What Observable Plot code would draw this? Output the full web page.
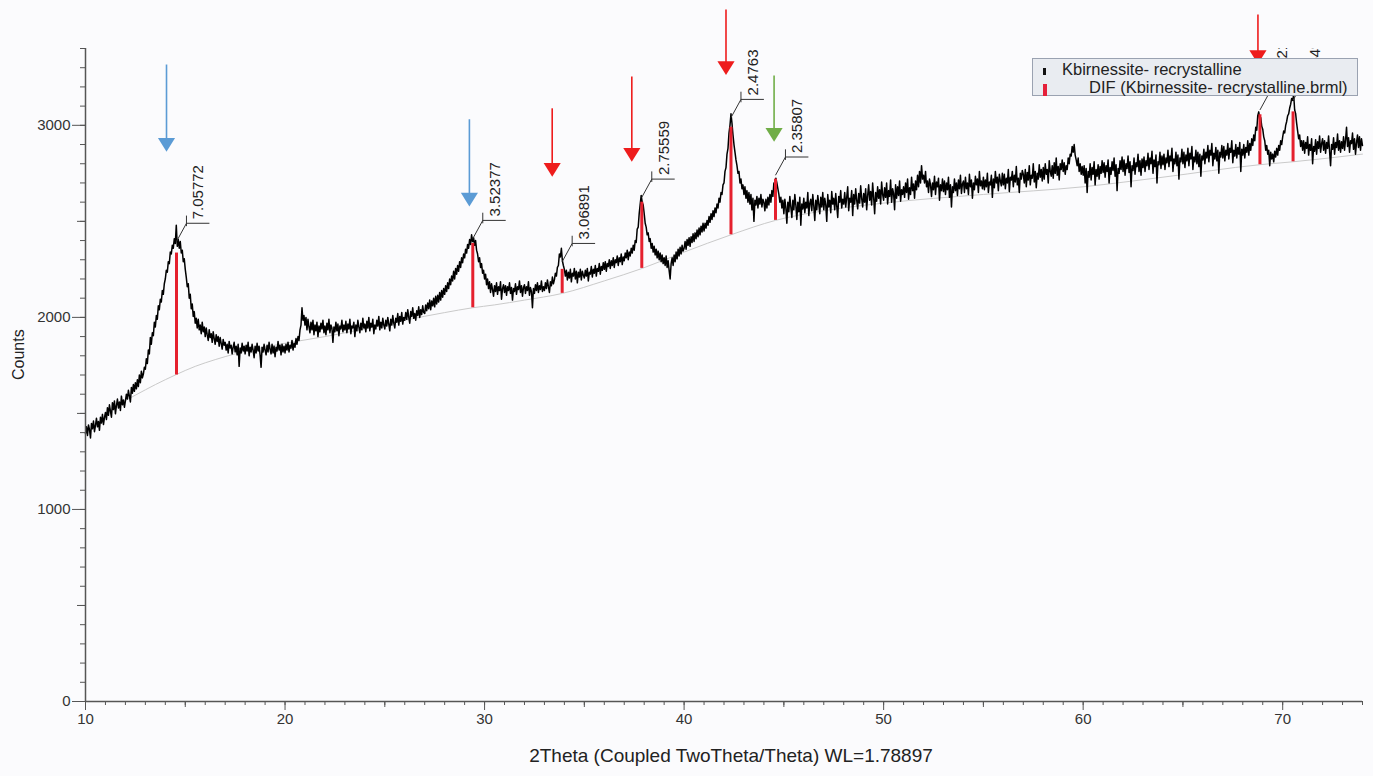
<!DOCTYPE html>
<html><head><meta charset="utf-8">
<script src="https://cdn.jsdelivr.net/npm/d3@7"></script>
<script src="https://cdn.jsdelivr.net/npm/@observablehq/plot@0.6"></script>
<style>
html,body{margin:0;padding:0;background:#fbfbfd;}
#wrap{position:relative;width:1373px;height:776px;overflow:hidden;}
#legend{position:absolute;left:1032px;top:58px;width:324px;height:36px;background:#e9ecf1;border:1px solid #9aa2b1;font-family:"Liberation Sans",Arial,sans-serif;font-size:16.5px;color:#222;}
#legend .m{position:absolute;}
#legend .t{position:absolute;white-space:nowrap;line-height:18px;}
</style></head>
<body><div id="wrap"><div id="legend"></div></div>
<script>
// ---- measured pattern: one row per degree of 2Theta, step 0.05 ----
const thetaStart = 10;
const thetaStep = 0.05;
const countsByDegree = [
[1395,1430,1385,1440,1415,1372,1448,1420,1460,1405,1438,1475,1430,1458,1412,1480,1450,1495,1442,1478],
[1505,1468,1530,1490,1545,1512,1480,1556,1520,1565,1498,1540,1575,1528,1560,1515,1590,1545,1570,1532],
[1565,1600,1575,1620,1590,1560,1635,1605,1650,1615,1660,1628,1675,1640,1700,1660,1720,1685,1705,1740],
[1730,1785,1760,1830,1810,1895,1860,1920,1905,1975,1950,2010,1990,2060,2040,2095,2080,2140,2120,2175],
[2200,2245,2235,2290,2280,2340,2330,2375,2360,2410,2385,2480,2370,2405,2360,2395,2335,2350,2290,2305],
[2250,2210,2160,2175,2100,2120,2045,2070,2005,2030,1970,1995,1945,1990,1935,1960,1915,1975,1925,1950],
[1900,1945,1910,1880,1935,1895,1915,1870,1925,1890,1860,1910,1875,1900,1850,1895,1865,1835,1885,1855],
[1870,1830,1860,1815,1875,1840,1855,1810,1845,1870,1820,1850,1805,1860,1745,1840,1815,1865,1825,1850],
[1810,1855,1825,1870,1800,1845,1820,1860,1830,1790,1850,1815,1865,1825,1850,1805,1740,1845,1820,1860],
[1830,1805,1855,1820,1870,1835,1810,1860,1815,1850,1795,1845,1825,1875,1830,1855,1805,1860,1820,1850],
[1815,1860,1830,1870,1820,1855,1840,1880,1830,1865,1845,1890,1860,1900,1880,1935,1960,2050,1985,2010],
[1960,2000,1935,1990,1950,1920,1975,1935,1985,1910,1960,1930,1975,1900,1955,1925,1970,1940,1985,1920],
[1955,1910,1970,1935,1990,1920,1960,1945,1870,1950,1925,1975,1930,1965,1905,1955,1940,1985,1925,1960],
[1935,1980,1920,1965,1940,1990,1915,1955,1945,1975,1900,1960,1930,1985,1950,1920,1970,1935,1995,1945],
[1965,1925,1980,1945,2000,1930,1970,1950,1990,1915,1960,1940,1985,1955,2005,1935,1975,1945,1995,1960],
[1940,1985,1955,2000,1965,1930,1990,1960,2010,1970,1945,1995,1975,2020,1960,2005,1980,2025,1965,2000],
[1985,2025,1990,2040,2000,1970,2030,2005,2050,1995,2020,1985,2035,2010,2055,2000,2040,2015,2060,2025],
[2020,2065,2035,2075,2045,2090,2040,2085,2060,2100,2055,2110,2070,2115,2080,2130,2090,2140,2105,2150],
[2120,2165,2135,2180,2150,2200,2170,2215,2190,2240,2200,2255,2225,2270,2240,2290,2260,2310,2285,2330],
[2310,2355,2335,2380,2360,2405,2380,2430,2395,2415,2375,2400,2350,2330,2290,2310,2260,2280,2230,2245],
[2200,2225,2170,2200,2150,2185,2130,2175,2145,2110,2165,2135,2180,2120,2160,2140,2185,2095,2150,2170],
[2130,2165,2115,2160,2140,2180,2125,2155,2090,2150,2135,2175,2120,2160,2145,2190,2130,2165,2110,2155],
[2170,2125,2160,2140,2185,2115,2155,2135,2050,2150,2125,2170,2140,2180,2130,2165,2145,2190,2135,2160],
[2140,2180,2150,2195,2160,2130,2185,2165,2210,2175,2195,2230,2215,2260,2270,2330,2315,2360,2295,2270],
[2250,2215,2245,2195,2235,2205,2250,2185,2230,2215,2255,2200,2240,2180,2235,2210,2250,2195,2240,2220],
[2205,2245,2215,2255,2190,2235,2225,2265,2210,2250,2230,2270,2215,2255,2240,2280,2225,2265,2245,2285],
[2250,2290,2240,2280,2265,2300,2255,2295,2270,2310,2260,2300,2285,2320,2270,2310,2290,2330,2275,2315],
[2295,2335,2310,2350,2300,2340,2320,2360,2335,2375,2350,2400,2390,2460,2470,2540,2590,2635,2600,2585],
[2540,2490,2470,2430,2440,2395,2410,2360,2385,2340,2370,2325,2355,2310,2345,2300,2335,2290,2325,2280],
[2310,2270,2320,2260,2295,2245,2200,2280,2310,2270,2325,2290,2340,2305,2355,2320,2365,2330,2375,2345],
[2360,2395,2355,2405,2375,2415,2370,2420,2390,2435,2395,2440,2410,2455,2420,2465,2430,2475,2445,2490],
[2450,2490,2465,2505,2480,2525,2495,2540,2510,2555,2525,2570,2545,2590,2570,2620,2600,2650,2640,2690],
[2700,2760,2780,2850,2880,2960,3000,3060,3010,2950,2900,2860,2820,2790,2750,2760,2700,2720,2670,2690],
[2640,2680,2620,2660,2600,2650,2590,2640,2560,2620,2500,2610,2585,2630,2570,2620,2590,2640,2575,2615],
[2600,2555,2615,2570,2625,2585,2640,2600,2660,2630,2700,2680,2725,2700,2670,2640,2600,2625,2570,2610],
[2540,2615,2570,2490,2600,2550,2630,2575,2520,2610,2560,2640,2585,2510,2600,2550,2625,2480,2590,2565],
[2620,2545,2600,2570,2650,2530,2595,2615,2555,2640,2580,2505,2610,2560,2635,2590,2540,2625,2575,2650],
[2560,2620,2585,2500,2640,2575,2610,2545,2655,2590,2620,2560,2645,2580,2520,2630,2600,2660,2570,2615],
[2590,2650,2575,2625,2680,2555,2620,2600,2660,2530,2640,2590,2670,2610,2565,2645,2595,2685,2620,2575],
[2645,2600,2670,2560,2635,2690,2610,2655,2585,2700,2625,2540,2650,2605,2680,2620,2665,2590,2705,2640],
[2610,2675,2625,2700,2590,2660,2630,2715,2600,2670,2645,2560,2690,2620,2680,2635,2710,2605,2665,2640],
[2680,2625,2700,2650,2720,2615,2675,2640,2730,2660,2695,2620,2710,2665,2740,2680,2760,2700,2790,2720],
[2740,2700,2760,2680,2710,2650,2720,2690,2630,2700,2665,2735,2640,2705,2680,2725,2610,2690,2660,2720],
[2655,2710,2640,2700,2665,2730,2625,2690,2575,2680,2650,2720,2660,2700,2635,2715,2670,2740,2645,2695],
[2710,2650,2730,2670,2700,2640,2745,2680,2715,2620,2700,2665,2735,2690,2720,2650,2760,2685,2710,2670],
[2730,2665,2715,2680,2750,2650,2705,2690,2740,2625,2720,2675,2760,2700,2730,2660,2745,2710,2685,2750],
[2690,2745,2670,2725,2700,2770,2655,2730,2715,2760,2680,2740,2705,2785,2690,2725,2650,2750,2720,2765],
[2745,2700,2770,2680,2755,2715,2790,2690,2740,2725,2800,2705,2760,2675,2750,2720,2795,2730,2770,2710],
[2780,2720,2800,2745,2770,2700,2815,2760,2735,2790,2725,2805,2750,2830,2740,2785,2715,2800,2770,2820],
[2760,2805,2745,2790,2770,2830,2800,2850,2840,2890,2860,2900,2845,2820,2790,2830,2760,2800,2745,2785],
[2740,2790,2700,2775,2650,2760,2730,2800,2715,2780,2745,2810,2690,2770,2735,2795,2720,2785,2750,2815],
[2755,2805,2730,2790,2760,2820,2700,2780,2745,2810,2765,2830,2735,2795,2660,2775,2750,2815,2770,2835],
[2760,2820,2740,2800,2775,2840,2755,2810,2680,2790,2765,2830,2745,2805,2785,2850,2760,2815,2740,2825],
[2780,2835,2760,2815,2790,2855,2770,2830,2800,2865,2750,2820,2785,2845,2700,2810,2795,2860,2775,2840],
[2795,2850,2770,2830,2805,2870,2785,2840,2815,2880,2760,2825,2800,2860,2790,2845,2720,2830,2810,2875],
[2800,2860,2780,2845,2815,2880,2790,2855,2825,2890,2770,2835,2810,2870,2800,2860,2785,2850,2735,2840],
[2820,2875,2800,2860,2830,2895,2810,2870,2845,2905,2790,2855,2825,2885,2815,2870,2750,2860,2835,2895],
[2830,2890,2815,2870,2845,2905,2825,2880,2860,2920,2805,2870,2840,2900,2830,2885,2850,2910,2760,2875],
[2845,2900,2830,2885,2860,2920,2845,2905,2870,2930,2895,2950,2920,2990,2975,3050,3070,3030,3040,2995],
[2980,2940,2920,2870,2895,2850,2870,2790,2860,2825,2850,2810,2865,2835,2880,2845,2895,2870,2920,2900],
[2940,2970,2960,3000,3020,3050,3060,3090,3110,3140,3130,3160,3080,3060,3010,2970,2930,2950,2890,2920],
[2870,2920,2855,2910,2880,2940,2845,2900,2870,2930,2800,2890,2865,2925,2850,2915,2880,2945,2860,2905],
[2930,2870,2920,2855,2910,2880,2945,2865,2790,2900,2875,2935,2850,2910,2885,2955,2870,2920,2860,2915],
[2880,2940,2870,2925,2990,2890,2935,2860,2920,2905,2960,2875,2930,2850,2910,2950,2885,2940,2870,2930],
[2895]
];

// ---- background curve ----
const bgTheta = [11.5,12.5,13.5,14.5,15.5,16.5,17.5,18.5,20,22,24,26,28,29.4,30.5,32,33.9,36,37.9,40,42.35,44.58,47,50,55,60,64,68.86,70.5,74];
const bgCount = [1540,1595,1650,1700,1745,1780,1810,1835,1865,1900,1940,1985,2025,2050,2065,2090,2125,2190,2255,2340,2430,2505,2555,2595,2640,2680,2730,2795,2810,2850];

// ---- DIF peaks ----
const peakTheta = [14.56,29.41,33.89,37.88,42.35,44.58,68.86,70.52];
const peakLabel = ["7.05772","3.52377","3.06891","2.75559","2.4763","2.35807","1.58217","1.54945"];
const stickBase = [1700,2050,2125,2255,2430,2505,2795,2810];
const stickTop  = [2335,2385,2250,2600,2990,2720,3055,3070];
const peakTop   = [2395,2410,2290,2625,3040,2740,3080,3130];

// ---- annotation arrows ----
const arrowTheta = [14.06,29.24,33.39,37.38,42.1,44.51,68.76];
const arrowFrom  = [3314,3029,3086,3252,3600,3257,3574];
const arrowTo    = [2862,2577,2732,2810,3262,2914,3319];
const arrowGroup = ["A","A","B","B","B","C","B"];

// ---- axes ----
const xTicks = [10,20,30,40,50,60,70];
const yTicks = [0,1000,2000,3000];
const xDomain = [10,74];
const yDomain = [0,3400];
const xTitle = "2Theta (Coupled TwoTheta/Theta) WL=1.78897";
const yTitle = "Counts";
const legendItems = ["Kbirnessite- recrystalline","DIF (Kbirnessite- recrystalline.brml)"];

// ---- build tables ----
const pattern = [];
countsByDegree.forEach((row, r) => row.forEach((c, j) => pattern.push({theta: +(thetaStart + r + j*thetaStep).toFixed(3), count: c})));
const background = bgTheta.map((t,i)=>({theta:t, count:bgCount[i]}));
const peaks = peakTheta.map((t,i)=>({theta:t, label:peakLabel[i], base:stickBase[i], top:stickTop[i], peak:peakTop[i]}));
const arrows = arrowTheta.map((t,i)=>({theta:t, from:arrowFrom[i], to:arrowTo[i], group:arrowGroup[i]}));

const LDX = 0.5, LDY = 95, BAR = 1.15;
const arrowHead = {
  draw(context, size) {
    const s = Math.sqrt(size);
    const hw = 0.78*s, h = 1.25*s;
    context.moveTo(-hw,-h); context.lineTo(hw,-h); context.lineTo(0,0); context.closePath();
  }
};
const axisColor = "#555";
const font = "'Liberation Sans', Arial, sans-serif";

const chart = Plot.plot({
  width: 1373, height: 776,
  marginTop: 48, marginBottom: 75, marginLeft: 85, marginRight: 11,
  x: {domain: xDomain},
  y: {domain: yDomain},
  color: {type: "ordinal", domain: ["A","B","C"], range: ["#5b9bd5","#ee1c1c","#70ad47"]},
  style: {background: "transparent", fontFamily: font, color: "#333", overflow: "visible"},
  marks: [
    Plot.line(background, {x:"theta", y:"count", stroke:"#cacaca", strokeWidth:1, curve:"monotone-x"}),
    Plot.line(pattern, {x:"theta", y:"count", stroke:"#000", strokeWidth:1.5}),
    Plot.ruleX(peaks, {x:"theta", y1:"base", y2:"top", stroke:"#e5202e", strokeWidth:3}),
    Plot.link(peaks, {x1:"theta", y1:"peak", x2:d=>d.theta+LDX, y2:d=>d.peak+LDY, stroke:"#333", strokeWidth:1}),
    Plot.link(peaks, {x1:d=>d.theta+LDX, y1:d=>d.peak+LDY, x2:d=>d.theta+LDX+BAR, y2:d=>d.peak+LDY, stroke:"#333", strokeWidth:1}),
    Plot.link(peaks, {x1:d=>d.theta+LDX, x2:d=>d.theta+LDX, y1:d=>d.peak+LDY-15, y2:d=>d.peak+LDY+40, stroke:"#333", strokeWidth:1}),
    Plot.text(peaks, {x:d=>d.theta+LDX, y:d=>d.peak+LDY, text:"label", rotate:-90, textAnchor:"start", dx:12, dy:-4, fontSize:15, fill:"#222", clip:true}),
    Plot.ruleX(arrows, {x:"theta", y1:"from", y2:d=>d.to+40, stroke:"group", strokeWidth:1.6}),
    Plot.dot(arrows, {x:"theta", y:"to", r:6.2, symbol:arrowHead, fill:"group", stroke:null}),
    Plot.axisY({ticks: d3.range(yDomain[0], yDomain[1]+1, 100), tickSize:5, tickFormat:()=>"", label:null, stroke:axisColor}),
    Plot.axisY({ticks: d3.range(500, yDomain[1]+1, 1000), tickSize:8, tickFormat:()=>"", label:null, stroke:axisColor}),
    Plot.axisY({ticks: yTicks, tickSize:13, tickPadding:2, tickFormat:d=>String(d), fontSize:15, label:null, stroke:axisColor, fill:"#333"}),
    Plot.axisX({ticks: d3.range(xDomain[0], xDomain[1]+1, 1), tickSize:4, tickFormat:()=>"", label:null, stroke:axisColor}),
    Plot.axisX({ticks: d3.range(15, xDomain[1]+1, 10), tickSize:6, tickFormat:()=>"", label:null, stroke:axisColor}),
    Plot.axisX({ticks: xTicks, tickSize:9, tickPadding:3, tickFormat:d=>String(d), fontSize:15, label:null, stroke:axisColor, fill:"#333"}),
    Plot.ruleX([xDomain[0]], {stroke:axisColor, strokeWidth:1.5}),
    Plot.ruleY([yDomain[0]], {stroke:axisColor, strokeWidth:1.5}),
    Plot.text([yTitle], {text:d=>d, frameAnchor:"left", rotate:-90, dx:-67, dy:5, fontSize:16, fill:"#222"}),
    Plot.text([xTitle], {text:d=>d, frameAnchor:"bottom", dx:7, dy:60, fontSize:19, fill:"#222"})
  ]
});
const wrap = document.getElementById("wrap");
wrap.insertBefore(chart, wrap.firstChild);
chart.style.position = "absolute"; chart.style.left = "0"; chart.style.top = "0";

// legend (HTML overlay)
const legend = document.getElementById("legend");
const markerStyles = [
  {left:10, top:9, w:3, h:7, c:"#111"},
  {left:10, top:25, w:4, h:12, c:"#e5203a"}
];
const textPos = [{left:29, top:1},{left:56, top:19}];
legendItems.forEach((name,i)=>{
  const m = document.createElement("div"); m.className="m";
  Object.assign(m.style,{left:markerStyles[i].left+"px",top:markerStyles[i].top+"px",width:markerStyles[i].w+"px",height:markerStyles[i].h+"px",background:markerStyles[i].c});
  legend.appendChild(m);
  const t = document.createElement("div"); t.className="t"; t.textContent = name;
  Object.assign(t.style,{left:textPos[i].left+"px",top:textPos[i].top+"px"});
  legend.appendChild(t);
});
</script>
</body></html>
